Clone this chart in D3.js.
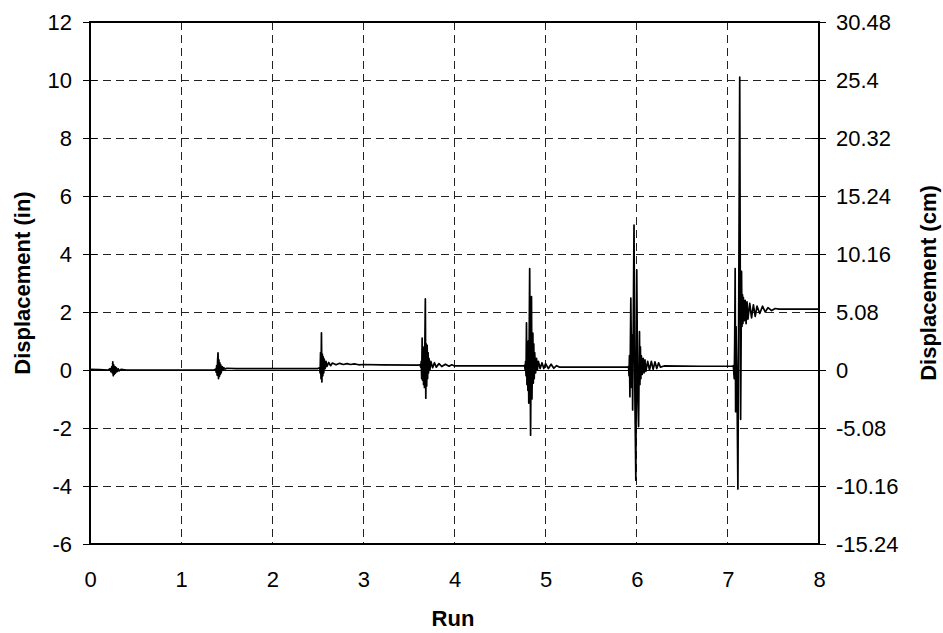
<!DOCTYPE html>
<html><head><meta charset="utf-8">
<script src="https://cdnjs.cloudflare.com/ajax/libs/d3/7.8.5/d3.min.js"></script>
<style>body{margin:0;background:#fff}svg{display:block}text{font-family:Arial,"Liberation Sans",sans-serif;fill:#000}</style>
</head><body><svg id="c" width="943" height="633"></svg>
<script>
const xTicks = [0,1,2,3,4,5,6,7,8];
const yTicksIn = [-6,-4,-2,0,2,4,6,8,10,12];
const yTicksCm = [-15.24,-10.16,-5.08,0,5.08,10.16,15.24,20.32,25.4,30.48];
const yTickLabelsIn = ["-6","-4","-2","0","2","4","6","8","10","12"];
const yTickLabelsCm = ["-15.24","-10.16","-5.08","0","5.08","10.16","15.24","20.32","25.4","30.48"];

const run1 = [[0,0.02],[0.1,0.01],[0.2,0.0],[0.22,0.05],[0.23,-0.06],[0.24,0.12],[0.245,-0.1],[0.25,0.28],[0.255,-0.2],[0.26,0.18],[0.265,-0.15],[0.27,0.12],[0.275,-0.12],[0.28,0.1],[0.285,-0.08],[0.29,0.07],[0.3,-0.05],[0.31,0.04],[0.32,-0.03],[0.34,0.02],[0.4,0.0],[0.6,0.0],[1.0,0.0],[1.36,0.0]];
const run2 = [[1.38,0.03],[1.385,-0.08],[1.39,0.15],[1.395,-0.18],[1.40,0.3],[1.405,0.59],[1.41,-0.3],[1.415,0.35],[1.42,-0.22],[1.425,0.25],[1.43,-0.15],[1.435,0.18],[1.44,-0.1],[1.45,0.12],[1.46,0.0],[1.47,0.08],[1.48,0.03],[1.5,0.06],[1.6,0.05],[1.8,0.05],[2.2,0.05],[2.5,0.05]];
const run3 = [[2.52,0.08],[2.525,-0.1],[2.53,0.6],[2.535,-0.3],[2.54,1.28],[2.545,-0.41],[2.55,0.55],[2.555,-0.2],[2.56,0.45],[2.565,-0.1],[2.57,0.38],[2.58,0.05],[2.59,0.3],[2.6,0.12],[2.62,0.26],[2.64,0.15],[2.66,0.24],[2.7,0.18],[2.74,0.23],[2.78,0.19],[2.82,0.22],[2.86,0.19],[2.9,0.21],[2.95,0.18],[3.0,0.19],[3.2,0.18],[3.6,0.17]];
const run4 = [[3.62,0.18],[3.63,0.1],[3.635,0.3],[3.64,-0.3],[3.645,1.1],[3.65,-0.35],[3.655,0.8],[3.66,-0.5],[3.665,0.7],[3.67,-0.6],[3.68,2.45],[3.685,-0.97],[3.69,0.9],[3.695,-0.55],[3.70,0.85],[3.705,-0.3],[3.71,0.6],[3.715,-0.1],[3.72,0.4],[3.73,0.0],[3.74,0.3],[3.76,0.08],[3.78,0.25],[3.8,0.1],[3.83,0.22],[3.86,0.12],[3.9,0.2],[3.94,0.13],[3.97,0.18],[4.0,0.14],[4.4,0.14],[4.75,0.14]];
const run5 = [[4.77,0.16],[4.775,0.0],[4.78,0.3],[4.785,-0.2],[4.79,1.63],[4.795,-0.5],[4.80,0.9],[4.805,-0.7],[4.81,1.0],[4.815,-1.14],[4.825,3.5],[4.835,-2.25],[4.845,2.53],[4.85,-1.0],[4.86,1.27],[4.865,-0.45],[4.87,0.9],[4.875,-0.3],[4.88,0.6],[4.89,-0.1],[4.9,0.4],[4.91,0.0],[4.92,0.3],[4.94,0.05],[4.96,0.25],[4.98,0.05],[5.0,0.22],[5.03,0.05],[5.06,0.2],[5.09,0.06],[5.12,0.15],[5.15,0.1],[5.5,0.1],[5.9,0.1]];
const run6 = [[5.91,0.12],[5.915,-0.2],[5.92,0.5],[5.925,-0.92],[5.935,2.48],[5.945,-0.6],[5.95,1.2],[5.955,-1.38],[5.97,5.0],[5.98,-1.0],[5.99,-3.8],[6.0,3.45],[6.01,-0.8],[6.02,-1.95],[6.03,1.32],[6.035,-0.5],[6.04,0.8],[6.045,-0.3],[6.05,0.5],[6.06,-0.15],[6.07,0.4],[6.08,-0.1],[6.09,0.35],[6.1,-0.05],[6.12,0.3],[6.14,0.0],[6.16,0.3],[6.18,0.02],[6.2,0.28],[6.22,0.05],[6.24,0.25],[6.26,0.1],[6.3,0.14],[6.7,0.13],[7.05,0.13]];
const run7 = [[7.06,0.15],[7.07,-0.3],[7.075,1.0],[7.08,3.5],[7.085,-1.44],[7.09,1.5],[7.1,-0.5],[7.11,-4.1],[7.13,10.1],[7.14,-1.7],[7.15,3.4],[7.155,1.5],[7.16,2.6],[7.165,1.6],[7.17,2.5],[7.18,1.7],[7.19,2.4],[7.2,1.6],[7.21,2.35],[7.22,1.75],[7.24,2.3],[7.26,1.8],[7.28,2.25],[7.3,1.85],[7.32,2.2],[7.35,1.95],[7.38,2.2],[7.41,2.0],[7.44,2.15],[7.48,2.05],[7.52,2.12],[7.56,2.1],[8.0,2.1]];

const series = [].concat(run1, run2, run3, run4, run5, run6, run7);

const L = 90, R = 819, T = 22, B = 544;
const FONT = "Arial, 'Liberation Sans', sans-serif";
const svg = d3.select("#c");
const x = d3.scaleLinear().domain([0,8]).range([L,R]);
const y = d3.scaleLinear().domain([-6,12]).range([B,T]);
const yCm = d3.scaleLinear().domain([-15.24,30.48]).range([B,T]);

// gridlines
svg.append("g").selectAll("line").data(xTicks.filter(d=>d>0&&d<8)).join("line")
  .attr("x1",d=>x(d)).attr("x2",d=>x(d)).attr("y1",T).attr("y2",B)
  .attr("stroke","#222").attr("stroke-width",1).attr("stroke-dasharray","8,5").attr("shape-rendering","crispEdges");
svg.append("g").selectAll("line").data(yTicksIn.filter(d=>d!==0&&d>-6&&d<12)).join("line")
  .attr("x1",L).attr("x2",R).attr("y1",d=>y(d)).attr("y2",d=>y(d))
  .attr("stroke","#222").attr("stroke-width",1).attr("stroke-dasharray","8,5").attr("shape-rendering","crispEdges");

// zero line
svg.append("line").attr("x1",L).attr("x2",R).attr("y1",y(0)).attr("y2",y(0))
  .attr("stroke","#000").attr("stroke-width",1).attr("shape-rendering","crispEdges");

// data line
svg.append("path").datum(series)
  .attr("d", d3.line().x(d=>x(d[0])).y(d=>y(d[1])))
  .attr("fill","none").attr("stroke","#000").attr("stroke-width",1.7).attr("stroke-linejoin","round");

// plot border
svg.append("rect").attr("x",L).attr("y",T).attr("width",R-L).attr("height",B-T)
  .attr("fill","none").attr("stroke","#000").attr("stroke-width",1.2).attr("shape-rendering","crispEdges");

// left axis
const gl = svg.append("g").attr("transform",`translate(${L},0)`)
  .call(d3.axisLeft(y).tickValues(yTicksIn).tickSize(7).tickPadding(10).tickFormat((d,i)=>yTickLabelsIn[i]));
gl.select(".domain").remove();
gl.selectAll(".tick line").attr("x1",7).attr("x2",-7).attr("stroke","#000");
gl.selectAll(".tick text").attr("font-size",22).attr("font-family",FONT).attr("x",-18);

// right axis
const gr = svg.append("g").attr("transform",`translate(${R},0)`)
  .call(d3.axisRight(yCm).tickValues(yTicksCm).tickSize(7).tickPadding(10).tickFormat((d,i)=>yTickLabelsCm[i]));
gr.select(".domain").remove();
gr.selectAll(".tick line").attr("x1",-7).attr("x2",7).attr("stroke","#000");
gr.selectAll(".tick text").attr("font-size",22).attr("font-family",FONT).attr("x",17);

// bottom axis
const gb = svg.append("g").attr("transform",`translate(0,${B})`)
  .call(d3.axisBottom(x).tickValues(xTicks).tickSize(0).tickPadding(27).tickFormat(d3.format("d")));
gb.select(".domain").remove();
gb.selectAll(".tick text").attr("font-size",22).attr("font-family",FONT);

// titles
svg.append("text").attr("x",453).attr("y",626).attr("text-anchor","middle")
  .attr("font-family",FONT).attr("font-size",22).attr("font-weight","bold").text("Run");
svg.append("text").attr("transform","translate(30,283) rotate(-90)").attr("text-anchor","middle")
  .attr("font-family",FONT).attr("font-size",22).attr("font-weight","bold").text("Displacement (in)");
svg.append("text").attr("transform","translate(936,283) rotate(-90)").attr("text-anchor","middle")
  .attr("font-family",FONT).attr("font-size",22).attr("font-weight","bold").text("Displacement (cm)");
</script></body></html>
